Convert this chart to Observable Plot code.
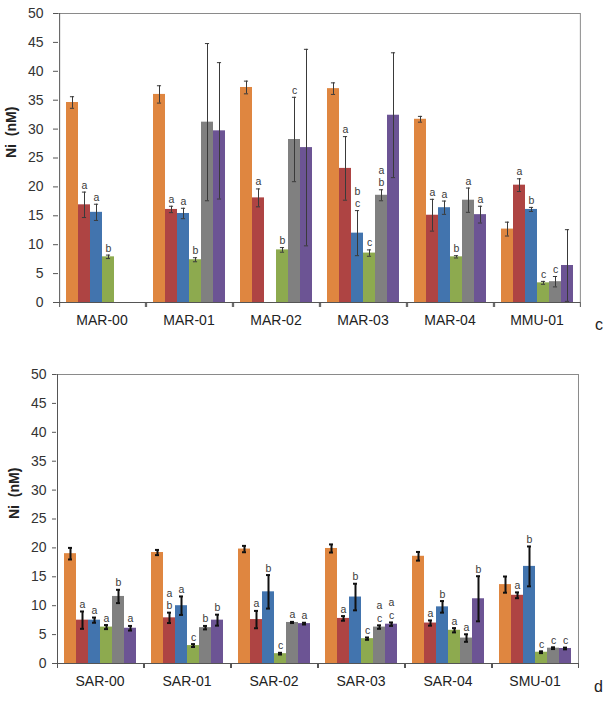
<!DOCTYPE html>
<html>
<head>
<meta charset="utf-8">
<script src="https://cdn.jsdelivr.net/npm/d3@7"></script>
<script src="https://cdn.jsdelivr.net/npm/@observablehq/plot@0.6"></script>
<style>
  html, body { margin: 0; padding: 0; background: #fff; }
  #wrap { position: relative; width: 606px; height: 712px; font-family: "Liberation Sans", Arial, sans-serif; }
  .panel { position: absolute; left: 0; }
  .tag { position: absolute; font-size: 16px; color: #222; }
</style>
</head>
<body>
<div id="wrap"></div>
<script>
// ---- data ----
const series = ["S1", "S2", "S3", "S4", "S5", "S6"];
const seriesColors = ["#DF8640", "#AE4443", "#4274AE", "#8DAA4F", "#808080", "#6C5494"];
const yTicks = [0, 5, 10, 15, 20, 25, 30, 35, 40, 45, 50];

const groupsTop = ["MAR-00", "MAR-01", "MAR-02", "MAR-03", "MAR-04", "MMU-01"];
const valuesTop = [
  [34.6, 16.9, 15.6, 7.9, null, null],
  [36.0, 16.1, 15.4, 7.4, 31.2, 29.7],
  [37.2, 18.1, null, 9.1, 28.2, 26.8],
  [37.0, 23.2, 12.0, 8.55, 18.55, 32.4],
  [31.7, 15.1, 16.4, 7.9, 17.7, 15.2],
  [12.7, 20.3, 16.1, 3.4, 3.6, 6.4]
];
const errorsTop = [
  [1.0, 2.2, 1.4, 0.3, null, null],
  [1.5, 0.55, 0.9, 0.35, 13.6, 11.8],
  [1.1, 1.55, null, 0.4, 7.3, 17.0],
  [1.0, 5.5, 3.9, 0.55, 0.95, 10.8],
  [0.5, 2.75, 1.15, 0.2, 2.1, 1.45],
  [1.2, 1.1, 0.35, 0.25, 0.9, 6.2]
];
const lettersTop = [
  ["", "a", "a", "b", "", ""],
  ["", "a", "a", "b", "", ""],
  ["", "a", "", "b", "c", ""],
  ["", "a", "b\nc", "c", "a\nb", ""],
  ["", "a", "a", "b", "a", "a"],
  ["", "a", "b", "c", "c", ""]
];

const groupsBottom = ["SAR-00", "SAR-01", "SAR-02", "SAR-03", "SAR-04", "SMU-01"];
const valuesBottom = [
  [19.0, 7.5, 7.5, 6.3, 11.6, 6.1],
  [19.2, 7.9, 10.0, 3.1, 6.2, 7.5],
  [19.8, 7.6, 12.4, 1.7, 7.1, 6.9],
  [19.9, 7.8, 11.5, 4.3, 6.3, 6.8],
  [18.55, 7.0, 9.8, 5.75, 4.4, 11.2],
  [13.65, 11.8, 16.8, 1.95, 2.65, 2.6]
];
const errorsBottom = [
  [1.0, 1.5, 0.45, 0.35, 1.15, 0.4],
  [0.45, 0.9, 1.6, 0.25, 0.3, 0.95],
  [0.55, 1.5, 2.9, 0.15, 0.1, 0.15],
  [0.7, 0.4, 2.3, 0.2, 0.3, 0.3],
  [0.75, 0.45, 1.0, 0.37, 0.65, 3.9],
  [1.4, 0.5, 3.45, 0.15, 0.15, 0.15]
];
const lettersBottom = [
  ["", "a", "a", "a", "b", "a"],
  ["", "a\nb", "a", "c", "b", "b"],
  ["", "a", "b", "c", "a", "a"],
  ["", "a", "b", "c", "a\nc", "a\nc"],
  ["", "a", "b", "a", "a", "b"],
  ["", "a", "b", "c", "c", "c"]
];
const yLabel = "Ni\u00a0\u00a0(nM)";

// ---- drawing ----
function panel(cfg) {
  const {groups, values, errors, letters, marginLeft, marginTop, marginBottom, height,
         yTickSize, yTickPad, errColor, errWidth, capHalf} = cfg;
  const W = 606, marginRight = 26;
  const rows = [];
  groups.forEach((g, gi) => series.forEach((s, si) => {
    const v = values[gi][si], e = errors[gi][si];
    rows.push({group: g, series: s, value: v,
      lo: v == null ? null : v - e, hi: v == null ? null : v + e,
      letter: letters[gi][si]});
  }));
  const po = 0.55;
  const fw = (W - marginLeft - marginRight) / groups.length;
  const step = fw / (series.length + 2 * po);
  const edge = (po + 0.5) * step;
  const capInset = step / 2 - capHalf;
  const firsts = groups.map(g => ({group: g, series: series[0]}));
  const lasts = groups.map(g => ({group: g, series: series[series.length - 1]}));
  return Plot.plot({
    width: W, height, marginLeft, marginRight, marginTop, marginBottom,
    style: {fontFamily: "'Liberation Sans', Arial, sans-serif", fontSize: "14px", color: "#333", background: "transparent", overflow: "visible"},
    fx: {domain: groups, padding: 0, label: null},
    x: {domain: series, paddingInner: 0, paddingOuter: po, axis: null},
    y: {domain: [0, 50]},
    color: {domain: series, range: seriesColors},
    marks: [
      Plot.ruleY([50], {stroke: "#8a8a8a", strokeWidth: 1}),
      Plot.ruleX([lasts[lasts.length - 1]], {fx: "group", x: "series", y1: 0, y2: 50, dx: edge, stroke: "#8a8a8a"}),
      Plot.barY(rows, {fx: "group", x: "series", y: "value", fill: "series", inset: 0}),
      Plot.ruleX(rows, {fx: "group", x: "series", y1: "lo", y2: "hi", stroke: errColor, strokeWidth: errWidth}),
      Plot.tickY(rows, {fx: "group", x: "series", y: "hi", insetLeft: capInset, insetRight: capInset, stroke: errColor, strokeWidth: errWidth}),
      Plot.tickY(rows, {fx: "group", x: "series", y: "lo", insetLeft: capInset, insetRight: capInset, stroke: errColor, strokeWidth: errWidth}),
      Plot.text(rows.filter(d => d.letter && d.value != null), {fx: "group", x: "series", y: "hi", text: "letter",
        lineAnchor: "bottom", dy: -3.5, fontSize: 10.5, lineHeight: 1.2, fill: "#3a3a3a"}),
      Plot.ruleY([0], {stroke: "#555", strokeWidth: 1}),
      Plot.ruleX([firsts[0]], {fx: "group", x: "series", y1: 0, y2: 50, dx: -edge, stroke: "#555"}),
      Plot.ruleX(firsts, {fx: "group", x: "series", y1: 0, y2: 0, insetBottom: -5, dx: -edge, stroke: "#555"}),
      Plot.ruleX(lasts, {fx: "group", x: "series", y1: 0, y2: 0, insetBottom: -5, dx: edge, stroke: "#555"}),
      Plot.axisY({ticks: yTicks, tickSize: yTickSize, tickPadding: yTickPad, label: null, fontSize: 14, stroke: "#555", fill: "#333"}),
      Plot.axisFx({anchor: "bottom", tickSize: 0, tickPadding: 13, label: null, fontSize: 14, fill: "#222"}),
      Plot.text([{group: groups[0], t: yLabel}], {fx: "group", text: "t", frameAnchor: "left", rotate: -90,
        dx: -(marginLeft - 11), fontSize: 14, fontWeight: "bold", fill: "#222"})
    ]
  });
}

const wrap = document.getElementById("wrap");

const topPanel = panel({groups: groupsTop, values: valuesTop, errors: errorsTop, letters: lettersTop,
  marginLeft: 58, marginTop: 13, marginBottom: 40, height: 342,
  yTickSize: 5, yTickPad: 10, errColor: "#3a3a3a", errWidth: 1, capHalf: 2.2});
topPanel.classList.add("panel");
topPanel.style.top = "0px";
wrap.appendChild(topPanel);

const bottomPanel = panel({groups: groupsBottom, values: valuesBottom, errors: errorsBottom, letters: lettersBottom,
  marginLeft: 53, marginTop: 14, marginBottom: 40, height: 343,
  yTickSize: 4, yTickPad: 6, errColor: "#111", errWidth: 2, capHalf: 2.2});
bottomPanel.classList.add("panel");
bottomPanel.style.top = "360px";
wrap.appendChild(bottomPanel);

const tagC = document.createElement("div");
tagC.className = "tag"; tagC.textContent = "c";
tagC.style.left = "595px"; tagC.style.top = "316px";
wrap.appendChild(tagC);
const tagD = document.createElement("div");
tagD.className = "tag"; tagD.textContent = "d";
tagD.style.left = "594px"; tagD.style.top = "678px";
wrap.appendChild(tagD);
</script>
</body>
</html>
